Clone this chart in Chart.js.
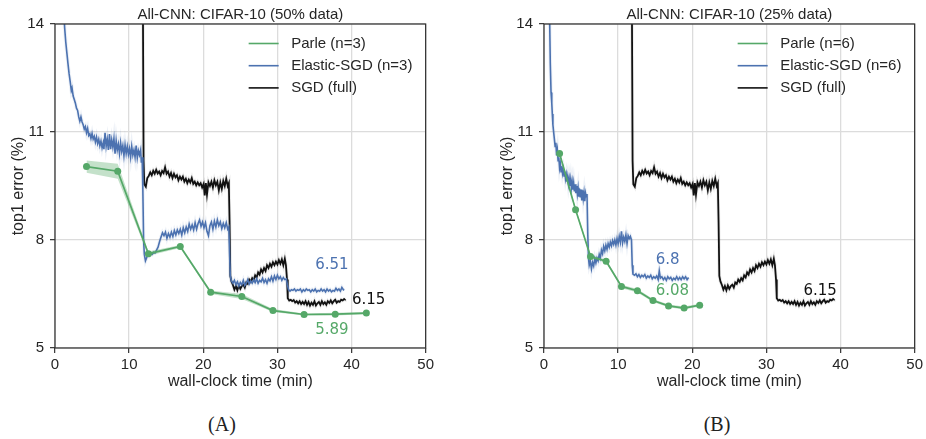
<!DOCTYPE html>
<html>
<head>
<meta charset="utf-8">
<script src="https://cdn.jsdelivr.net/npm/chart.js@4.4.1/dist/chart.umd.min.js"></script>
<style>
  html, body { margin: 0; padding: 0; background: #fff; overflow: hidden; }
  body { width: 926px; height: 439px; position: relative; }
  .panel { position: absolute; top: 0; }
  #panel-a { left: 0; }
  #panel-b { left: 489px; }
  .caption { position: absolute; top: 412px; width: 60px; text-align: center;
             font: 20px/24px "Liberation Serif", "DejaVu Serif", serif; color: #222; }
</style>
</head>
<body>
<canvas id="panel-a" class="panel" width="437" height="400"></canvas>
<canvas id="panel-b" class="panel" width="437" height="400"></canvas>
<div class="caption" style="left:192px">(A)</div>
<div class="caption" style="left:687px">(B)</div>

<script>
// Data: time in minutes, top1 error in %

const xTicks = [0, 10, 20, 30, 40, 50];
const yTicks = [5, 8, 11, 14];

// Panel A (50% data)
const parleATime = [4.25, 8.46, 12.6, 16.9, 21.0, 25.2, 29.4, 33.6, 37.8, 42.0];
const parleAErr = [10.04, 9.91, 7.62, 7.82, 6.55, 6.43, 6.04, 5.93, 5.94, 5.97];
const parleASpread = [0.17, 0.21, 0.06, 0.04, 0.05, 0.07, 0.04, 0.03, 0.04, 0.03];

const elasticA = [
  [1.15, 14.5], [1.3, 13.9], [1.45, 13.5], [1.6, 13.2], [1.75, 12.9], [1.9, 12.62],
  [2.05, 12.4], [2.2, 12.15], [2.3, 12.22], [2.45, 12.0], [2.6, 11.9], [2.75, 11.8],
  [2.9, 11.66], [3.05, 11.6], [3.2, 11.42], [3.35, 11.3], [3.5, 11.42], [3.65, 11.28],
  [3.8, 11.2], [3.95, 11.08], [4.1, 11.15], [4.25, 10.98], [4.4, 11.1], [4.55, 10.9],
  [4.7, 10.95], [4.85, 10.82], [5.0, 10.96], [5.15, 10.8], [5.3, 10.88], [5.45, 10.72],
  [5.6, 10.86], [5.75, 10.68], [5.9, 10.8], [6.05, 10.62], [6.2, 10.75], [6.35, 10.56],
  [6.5, 10.7], [6.6, 10.52], [6.75, 10.98], [6.9, 10.6], [7.05, 10.8], [7.2, 10.5],
  [7.35, 10.94], [7.5, 10.52], [7.65, 10.78], [7.8, 10.58], [7.95, 10.82], [8.1, 10.4],
  [8.25, 10.76], [8.4, 10.5], [8.55, 10.66], [8.7, 10.4], [8.85, 10.7], [9.0, 10.46],
  [9.15, 10.62], [9.3, 10.34], [9.45, 10.64], [9.6, 10.4], [9.75, 10.6], [9.9, 10.38],
  [10.05, 10.54], [10.2, 10.3], [10.35, 10.6], [10.5, 10.36], [10.65, 10.5], [10.8, 10.3],
  [10.95, 10.62], [11.1, 10.28], [11.25, 10.48], [11.4, 10.36], [11.55, 10.5], [11.65, 10.15],
  [11.75, 10.3], [11.85, 9.4], [11.95, 8.0], [12.05, 7.6], [12.2, 7.42], [12.35, 7.5],
  [12.5, 7.58], [12.7, 7.55], [12.9, 7.62], [13.1, 7.6], [13.3, 7.66], [13.5, 7.64],
  [13.7, 7.72], [13.9, 7.8], [14.1, 7.95], [14.3, 8.08], [14.5, 8.2], [14.7, 8.12],
  [14.9, 8.22], [15.1, 8.05], [15.3, 8.18], [15.5, 8.08], [15.7, 8.22], [15.9, 8.1],
  [16.1, 8.26], [16.3, 8.14], [16.5, 8.28], [16.7, 8.18], [16.9, 8.3], [17.1, 8.14],
  [17.3, 8.34], [17.5, 8.2], [17.7, 8.36], [17.9, 8.24], [18.1, 8.44], [18.3, 8.3],
  [18.5, 8.42], [18.7, 8.28], [18.9, 8.48], [19.1, 8.3], [19.3, 8.46], [19.5, 8.56],
  [19.7, 8.38], [19.9, 8.5], [20.1, 8.34], [20.3, 8.48], [20.5, 8.24], [20.7, 8.12],
  [20.9, 8.4], [21.1, 8.5], [21.3, 8.3], [21.5, 8.52], [21.7, 8.36], [21.9, 8.56],
  [22.1, 8.4], [22.3, 8.5], [22.5, 8.32], [22.7, 8.46], [22.9, 8.34], [23.1, 8.48],
  [23.3, 8.3], [23.45, 8.36], [23.55, 7.6], [23.65, 7.0], [23.8, 6.86], [24.0, 6.8],
  [24.2, 6.88], [24.4, 6.76], [24.6, 6.84], [24.8, 6.72], [25.0, 6.82], [25.2, 6.76],
  [25.4, 6.88], [25.6, 6.74], [25.8, 6.8], [26.0, 6.9], [26.2, 6.78], [26.4, 6.86],
  [26.6, 6.8], [26.8, 6.9], [27.0, 6.82], [27.2, 6.92], [27.4, 6.8], [27.6, 6.88],
  [27.8, 6.84], [28.0, 6.94], [28.2, 6.82], [28.4, 6.9], [28.6, 6.8], [28.8, 6.92],
  [29.0, 6.86], [29.2, 6.98], [29.4, 6.86], [29.6, 7.0], [29.8, 6.9], [30.0, 7.02],
  [30.2, 6.92], [30.4, 6.98], [30.6, 6.88], [30.8, 6.96], [31.0, 6.9], [31.2, 6.92],
  [31.35, 6.75], [31.5, 6.62], [31.7, 6.58], [31.9, 6.62], [32.1, 6.6], [32.3, 6.64],
  [32.5, 6.58], [32.7, 6.62], [32.9, 6.6], [33.1, 6.64], [33.3, 6.56], [33.5, 6.62],
  [33.7, 6.58], [33.9, 6.64], [34.1, 6.6], [34.3, 6.62], [34.5, 6.56], [34.7, 6.62],
  [34.9, 6.58], [35.1, 6.64], [35.3, 6.56], [35.5, 6.6], [35.7, 6.58], [35.9, 6.64],
  [36.1, 6.58], [36.3, 6.62], [36.5, 6.56], [36.7, 6.64], [36.9, 6.58], [37.1, 6.62],
  [37.3, 6.56], [37.5, 6.6], [37.7, 6.58], [37.9, 6.66], [38.1, 6.6], [38.3, 6.64],
  [38.5, 6.58], [38.7, 6.68], [38.9, 6.62], [39.0, 6.6]
];

// SGD on the full dataset, same run in both panels
const sgdFull = [
  [11.85, 15.0], [11.95, 10.2], [12.05, 9.55], [12.25, 9.48], [12.45, 9.72], [12.65, 9.78],
  [12.85, 9.88], [13.05, 9.8], [13.25, 9.92], [13.45, 9.84], [13.65, 9.95], [13.85, 9.85],
  [14.05, 9.9], [14.25, 9.8], [14.45, 9.92], [14.65, 9.86], [14.85, 10.02], [15.05, 9.84],
  [15.25, 9.9], [15.45, 9.76], [15.65, 9.86], [15.85, 9.72], [16.05, 9.84], [16.25, 9.74],
  [16.45, 9.8], [16.65, 9.66], [16.85, 9.76], [17.05, 9.68], [17.25, 9.76], [17.45, 9.62],
  [17.65, 9.7], [17.85, 9.58], [18.05, 9.68], [18.25, 9.6], [18.45, 9.72], [18.65, 9.56],
  [18.85, 9.62], [19.05, 9.52], [19.25, 9.6], [19.45, 9.52], [19.65, 9.58], [19.85, 9.46],
  [20.05, 9.56], [20.2, 9.24], [20.35, 9.58], [20.5, 9.26], [20.7, 9.6], [20.9, 9.5],
  [21.1, 9.62], [21.3, 9.46], [21.5, 9.66], [21.7, 9.52], [21.9, 9.62], [22.1, 9.38],
  [22.3, 9.6], [22.5, 9.42], [22.7, 9.64], [22.9, 9.5], [23.1, 9.7], [23.3, 9.5],
  [23.45, 9.58], [23.55, 8.5], [23.65, 7.0], [23.8, 6.85], [24.0, 6.75], [24.2, 6.62],
  [24.4, 6.72], [24.6, 6.6], [24.8, 6.74], [25.0, 6.64], [25.2, 6.72], [25.4, 6.76],
  [25.6, 6.68], [25.8, 6.82], [26.0, 6.78], [26.2, 6.9], [26.4, 6.84], [26.6, 6.94],
  [26.8, 6.88], [27.0, 7.02], [27.2, 6.96], [27.4, 7.1], [27.6, 7.04], [27.8, 7.18],
  [28.0, 7.1], [28.2, 7.22], [28.4, 7.14], [28.6, 7.3], [28.8, 7.22], [29.0, 7.34],
  [29.2, 7.26], [29.4, 7.38], [29.6, 7.3], [29.8, 7.4], [30.0, 7.32], [30.2, 7.44],
  [30.4, 7.34], [30.6, 7.46], [30.8, 7.3], [31.0, 7.48], [31.15, 7.3], [31.3, 6.9],
  [31.4, 6.38], [31.6, 6.32], [31.8, 6.34], [32.0, 6.3], [32.2, 6.33], [32.4, 6.26],
  [32.6, 6.3], [32.8, 6.24], [33.0, 6.3], [33.2, 6.22], [33.4, 6.28], [33.6, 6.22],
  [33.8, 6.3], [34.0, 6.2], [34.2, 6.28], [34.4, 6.18], [34.6, 6.26], [34.8, 6.2],
  [35.0, 6.3], [35.2, 6.18], [35.4, 6.24], [35.6, 6.28], [35.8, 6.2], [36.0, 6.3],
  [36.2, 6.22], [36.4, 6.27], [36.6, 6.2], [36.8, 6.3], [37.0, 6.25], [37.2, 6.32],
  [37.4, 6.24], [37.6, 6.3], [37.8, 6.34], [38.0, 6.26], [38.2, 6.3], [38.4, 6.28],
  [38.6, 6.34], [38.8, 6.32], [39.0, 6.36], [39.1, 6.35]
];

// Panel B (25% data)
const parleBTime = [2.1, 4.26, 6.28, 8.38, 10.45, 12.6, 14.7, 16.8, 18.9, 21.0];
const parleBErr = [10.4, 8.84, 7.54, 7.41, 6.71, 6.59, 6.32, 6.17, 6.11, 6.19];
const parleBSpread = [0.05, 0.05, 0.05, 0.04, 0.05, 0.05, 0.04, 0.04, 0.04, 0.04];

const elasticB = [
  [0.7, 14.6], [0.77, 14.0], [0.85, 12.9], [0.95, 12.1], [1.05, 11.8], [1.12, 11.5],
  [1.2, 11.2], [1.3, 11.0], [1.4, 10.8], [1.5, 10.6], [1.6, 10.7], [1.7, 10.35],
  [1.8, 10.5], [1.9, 10.2], [2.0, 10.3], [2.1, 10.0], [2.2, 10.12], [2.3, 9.9],
  [2.4, 10.05], [2.5, 9.85], [2.6, 9.96], [2.7, 9.78], [2.8, 9.9], [2.9, 9.7],
  [3.0, 9.82], [3.1, 9.62], [3.2, 9.76], [3.3, 9.55], [3.4, 9.7], [3.5, 9.5],
  [3.6, 9.68], [3.7, 9.45], [3.8, 9.62], [3.9, 9.4], [4.0, 9.58], [4.1, 9.35],
  [4.2, 9.55], [4.3, 9.3], [4.4, 9.5], [4.5, 9.28], [4.6, 9.45], [4.7, 9.2],
  [4.8, 9.42], [4.9, 9.18], [5.0, 9.4], [5.1, 9.1], [5.2, 9.38], [5.3, 9.15],
  [5.4, 9.32], [5.5, 9.08], [5.6, 9.3], [5.7, 9.2], [5.8, 9.28], [5.9, 8.2],
  [6.0, 7.5], [6.1, 7.3], [6.25, 7.42], [6.4, 7.2], [6.55, 7.38], [6.7, 7.28],
  [6.85, 7.48], [7.0, 7.36], [7.15, 7.5], [7.3, 7.42], [7.45, 7.6], [7.6, 7.5],
  [7.75, 7.72], [7.9, 7.62], [8.05, 7.82], [8.2, 7.7], [8.35, 7.86], [8.5, 7.74],
  [8.65, 7.9], [8.8, 7.8], [8.95, 7.94], [9.1, 7.84], [9.25, 7.98], [9.4, 7.88],
  [9.55, 8.0], [9.7, 7.86], [9.85, 8.04], [10.0, 7.9], [10.15, 8.1], [10.3, 7.94],
  [10.45, 8.24], [10.6, 7.92], [10.75, 8.08], [10.9, 7.96], [11.05, 8.14], [11.2, 7.9],
  [11.35, 8.12], [11.5, 8.04], [11.65, 8.1], [11.8, 8.0], [11.9, 7.3], [12.0, 7.05],
  [12.2, 7.02], [12.4, 7.06], [12.6, 6.98], [12.8, 7.04], [13.0, 6.96], [13.2, 7.02],
  [13.4, 6.98], [13.6, 7.04], [13.8, 6.94], [14.0, 7.0], [14.2, 6.96], [14.4, 7.02],
  [14.6, 6.92], [14.8, 6.98], [15.0, 6.94], [15.2, 7.0], [15.4, 6.9], [15.55, 7.14],
  [15.7, 6.94], [15.9, 6.98], [16.1, 6.9], [16.3, 6.96], [16.5, 6.88], [16.7, 6.98],
  [16.9, 6.92], [17.1, 6.96], [17.3, 6.88], [17.5, 6.94], [17.7, 6.9], [17.9, 6.98],
  [18.1, 6.9], [18.3, 6.96], [18.5, 6.9], [18.7, 6.98], [18.9, 6.92], [19.1, 6.98],
  [19.3, 6.9], [19.5, 6.96]
];

const GREEN = "#55a868";
const BLUE = "#4c72b0";
const BLACK = "#111111";
const TEXT = "#262626";
const SANS = "'Liberation Sans', Arial, sans-serif";

const toPoints = (pairs) => pairs.map(([x, y]) => ({ x, y }));
const zipPoints = (xs, ys) => xs.map((x, i) => ({ x, y: ys[i] }));

// Frame round the plot area (all four spines)
const framePlugin = {
  id: "frame",
  afterDatasetsDraw(chart) {
    const { ctx, chartArea: a } = chart;
    ctx.save();
    ctx.strokeStyle = "#333";
    ctx.lineWidth = 1.25;
    ctx.strokeRect(a.left, a.top, a.right - a.left, a.bottom - a.top);
    ctx.restore();
  },
};

// Legend drawn inside the plot, top right
const insideLegend = {
  id: "insideLegend",
  afterDraw(chart, args, opts) {
    const { ctx, chartArea: a } = chart;
    ctx.save();
    ctx.font = "15px " + SANS;
    ctx.textBaseline = "middle";
    ctx.textAlign = "left";
    opts.items.forEach((item, i) => {
      const y = a.top + 19.5 + i * 22.2;
      ctx.strokeStyle = item.color;
      ctx.lineWidth = 1.6;
      ctx.beginPath();
      ctx.moveTo(a.right - 177, y);
      ctx.lineTo(a.right - 147, y);
      ctx.stroke();
      ctx.fillStyle = TEXT;
      ctx.fillText(item.text, a.right - 134.5, y);
    });
    ctx.restore();
  },
};

// Final-value labels, placed in data coordinates
const endLabels = {
  id: "endLabels",
  afterDraw(chart, args, opts) {
    const { ctx, scales } = chart;
    ctx.save();
    ctx.font = "15px 'DejaVu Sans', sans-serif";
    ctx.textBaseline = "middle";
    ctx.textAlign = "left";
    opts.notes.forEach((n) => {
      ctx.fillStyle = n.color;
      ctx.fillText(n.text, scales.x.getPixelForValue(n.x), scales.y.getPixelForValue(n.y));
    });
    ctx.restore();
  },
};

function makePanel(id, title, parle, elastic, n, notes) {
  const upper = parle.err.map((v, i) => v + parle.spread[i]);
  const lower = parle.err.map((v, i) => v - parle.spread[i]);

  return new Chart(document.getElementById(id), {
    type: "line",
    data: {
      datasets: [
        {
          data: zipPoints(parle.time, parle.err),
          borderColor: GREEN,
          borderWidth: 1.7,
          pointRadius: 3.5,
          pointBackgroundColor: GREEN,
          pointBorderWidth: 0,
        },
        {
          data: zipPoints(parle.time, upper),
          borderWidth: 0,
          pointRadius: 0,
          fill: "+1",
          backgroundColor: "rgba(85,168,104,0.35)",
        },
        { data: zipPoints(parle.time, lower), borderWidth: 0, pointRadius: 0, fill: false },
        { data: toPoints(elastic), borderColor: BLUE, borderWidth: 1.6, pointRadius: 0 },
        { data: toPoints(elastic), borderColor: "rgba(76,114,176,0.1)", borderWidth: 3.5, pointRadius: 0 },
        { data: toPoints(sgdFull), borderColor: BLACK, borderWidth: 1.8, pointRadius: 0 },
        { data: toPoints(sgdFull), borderColor: "rgba(0,0,0,0.08)", borderWidth: 3.5, pointRadius: 0 },
      ],
    },
    options: {
      responsive: false,
      animation: false,
      events: [],
      layout: { padding: { left: 0, right: 10, top: 0, bottom: 8 } },
      elements: { line: { tension: 0 } },
      plugins: {
        legend: { display: false },
        tooltip: { enabled: false },
        title: {
          display: true,
          fullSize: false,
          text: title,
          color: TEXT,
          font: { family: SANS, size: 15, weight: "normal" },
          padding: { top: 5.5, bottom: 0.5 },
        },
        insideLegend: {
          items: [
            { text: `Parle (n=${n})`, color: GREEN },
            { text: `Elastic-SGD (n=${n})`, color: BLUE },
            { text: "SGD (full)", color: BLACK },
          ],
        },
        endLabels: { notes },
      },
      scales: {
        x: {
          type: "linear",
          min: 0,
          max: 50,
          afterBuildTicks: (s) => { s.ticks = xTicks.map((v) => ({ value: v })); },
          afterFit: (s) => { s.height = 44; },
          border: { display: false },
          grid: { color: "#dcdcdc", lineWidth: 1.3, tickLength: 5, tickColor: "#333", tickWidth: 1.2 },
          ticks: { color: TEXT, padding: 3, font: { family: SANS, size: 15 } },
          title: {
            display: true,
            text: "wall-clock time (min)",
            color: TEXT,
            font: { family: SANS, size: 16 },
            padding: { top: 1, bottom: 1 },
          },
        },
        y: {
          min: 5,
          max: 14,
          afterBuildTicks: (s) => { s.ticks = yTicks.map((v) => ({ value: v })); },
          afterFit: (s) => { s.width = 55; },
          border: { display: false },
          grid: { color: "#dcdcdc", lineWidth: 1.3, tickLength: 5, tickColor: "#333", tickWidth: 1.2 },
          ticks: { color: TEXT, padding: 6, font: { family: SANS, size: 15 } },
          title: {
            display: true,
            text: "top1 error (%)",
            color: TEXT,
            font: { family: SANS, size: 16 },
            padding: { top: 8.5, bottom: 0 },
          },
        },
      },
    },
    plugins: [framePlugin, insideLegend, endLabels],
  });
}

makePanel(
  "panel-a",
  "All-CNN: CIFAR-10 (50% data)",
  { time: parleATime, err: parleAErr, spread: parleASpread },
  elasticA,
  3,
  [
    { text: "6.51", x: 35.1, y: 7.31, color: BLUE },
    { text: "6.15", x: 40.05, y: 6.32, color: BLACK },
    { text: "5.89", x: 35.1, y: 5.51, color: GREEN },
  ]
);

makePanel(
  "panel-b",
  "All-CNN: CIFAR-10 (25% data)",
  { time: parleBTime, err: parleBErr, spread: parleBSpread },
  elasticB,
  6,
  [
    { text: "6.8", x: 15.07, y: 7.45, color: BLUE },
    { text: "6.08", x: 15.07, y: 6.57, color: GREEN },
    { text: "6.15", x: 35.0, y: 6.57, color: BLACK },
  ]
);
</script>
</body>
</html>
